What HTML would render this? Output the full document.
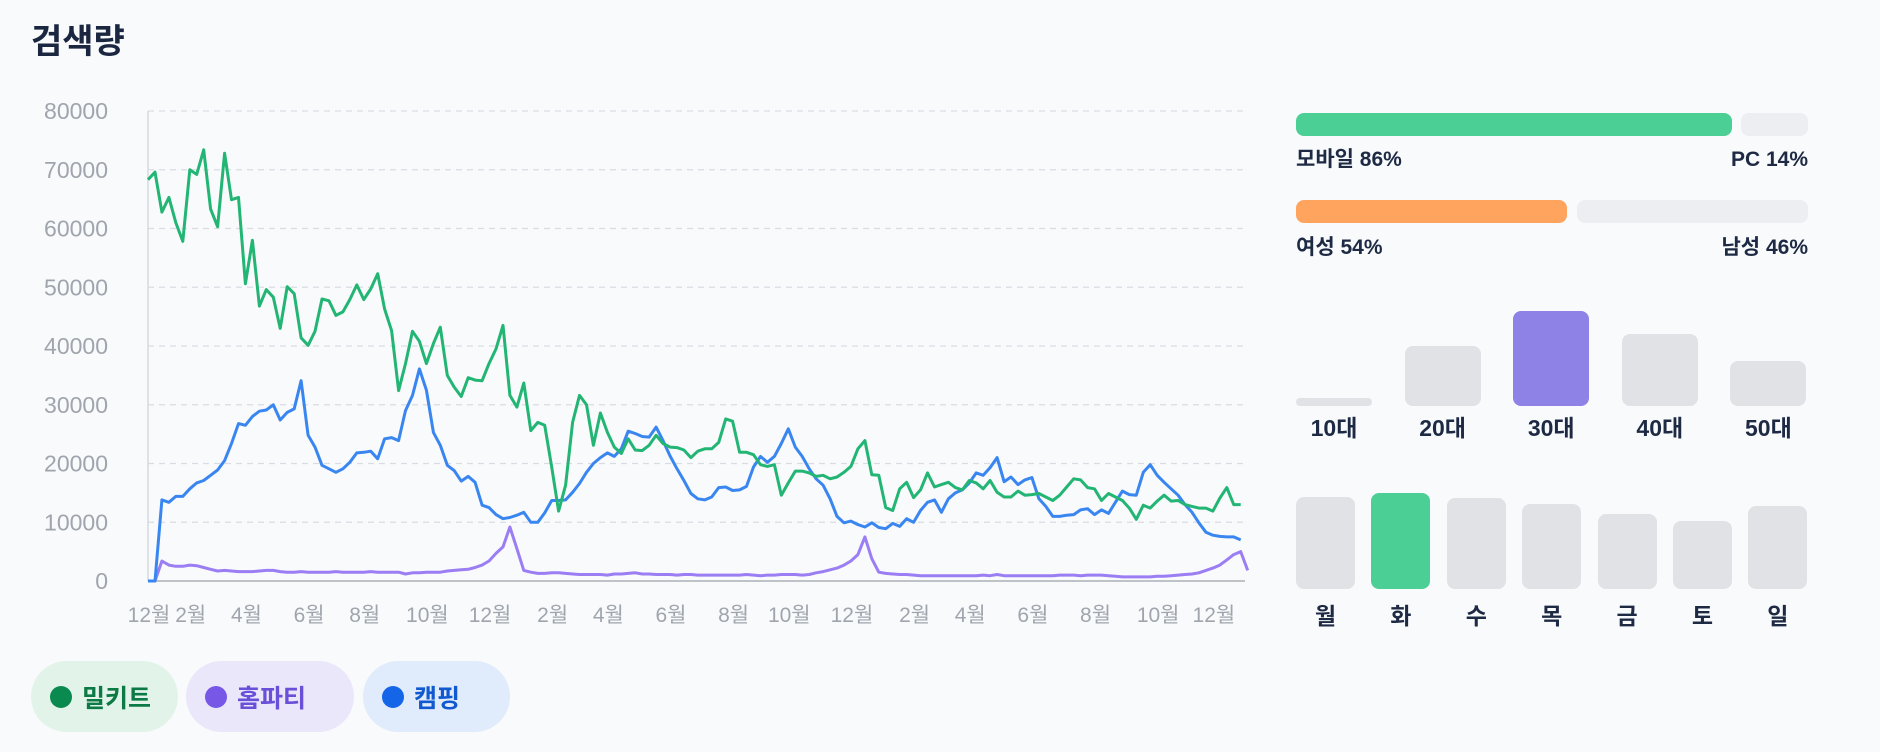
<!DOCTYPE html>
<html><head><meta charset="utf-8">
<style>
body{margin:0;width:1880px;height:752px;background:#f8fafc;font-family:"Liberation Sans","Noto Sans CJK KR",sans-serif;position:relative;overflow:hidden}
.abs{position:absolute}
.title{left:31px;top:14px;font-size:34px;font-weight:700;color:#1b2640}
.pill{position:absolute;top:661px;height:71px;border-radius:36px;display:flex;align-items:center;font-size:25px;font-weight:600}
.pill .dot{width:22px;height:22px;border-radius:50%;margin-left:19px;margin-right:10px}
.lbl{position:absolute;font-size:21px;line-height:26px;font-weight:700;color:#1e2a44}
.bar{position:absolute;border-radius:8px}
.cl{position:absolute;font-size:23px;line-height:28px;font-weight:700;color:#1e2a44;text-align:center}
</style></head><body>
<div class="abs title">검색량</div>
<svg id="chart" class="abs" style="left:0;top:0" width="1260" height="650"></svg>

<div class="pill" style="left:31px;width:147px;background:#e2f3e9;color:#0b7a45"><span class="dot" style="background:#0a8a4e"></span>밀키트</div>
<div class="pill" style="left:186px;width:168px;background:#ebe7fb;color:#6a4fd8"><span class="dot" style="background:#7657e6"></span>홈파티</div>
<div class="pill" style="left:363px;width:147px;background:#e0ebfb;color:#1059d0"><span class="dot" style="background:#1565e8"></span>캠핑</div>

<div class="bar" style="left:1296px;top:113px;width:436px;height:23px;background:#4ccf95"></div>
<div class="bar" style="left:1741px;top:113px;width:67px;height:23px;background:#eceef1"></div>
<div class="lbl" style="left:1296px;top:147px">모바일 86%</div>
<div class="lbl" style="left:1600px;width:208px;text-align:right;top:147px">PC 14%</div>
<div class="bar" style="left:1296px;top:200px;width:271px;height:23px;background:#ffa45f"></div>
<div class="bar" style="left:1577px;top:200px;width:231px;height:23px;background:#eceef1"></div>
<div class="lbl" style="left:1296px;top:235px">여성 54%</div>
<div class="lbl" style="left:1600px;width:208px;text-align:right;top:235px">남성 46%</div>
<div id="ages"></div>
<div id="days"></div>

<script>
const N=158;
const mealkit=[68300,69600,62800,65300,61000,57800,70000,69200,73400,63300,60300,72800,64900,65300,50600,58000,46800,49600,48300,43000,50100,48900,41400,40100,42500,48000,47700,45200,45800,47900,50400,47900,49700,52300,46300,42600,32400,37000,42500,40800,37000,40400,43200,35000,33000,31400,34600,34200,34100,37000,39500,43500,31600,29600,33700,25600,27000,26500,19400,11900,16300,27000,31600,30000,23100,28600,25300,22800,21700,24200,22300,22200,23100,24800,23400,22800,22700,22300,21000,22100,22500,22500,23600,27600,27200,21900,21900,21500,19800,19500,19800,14600,16700,18700,18700,18400,17800,18000,17400,17700,18500,19500,22500,23900,18100,18000,12500,12000,15700,16800,14200,15500,18400,16000,16400,16800,15900,15500,17100,16700,15700,17100,15100,14300,14300,15300,14600,14700,14900,14300,13700,14600,16000,17400,17200,15900,15700,13700,14900,14300,13700,12400,10500,12900,12400,13600,14600,13600,13700,13000,12700,12400,12400,11900,14100,15900,13000,13000];
const camping=[0,0,13800,13400,14400,14400,15700,16700,17100,18000,18900,20500,23400,26800,26500,28000,28900,29100,30000,27400,28700,29300,34100,24800,22800,19700,19100,18500,19100,20200,21800,21900,22100,20800,24200,24400,23900,29000,31600,36100,32500,25300,23100,19700,18800,17000,17800,16800,12900,12500,11300,10600,10800,11200,11700,10000,10000,11600,13700,13700,13800,15100,16600,18500,20000,21000,21800,21200,22500,25500,25100,24600,24500,26200,23900,21300,19100,17100,14900,14000,13800,14300,15900,16000,15400,15500,16100,19400,21200,20200,21200,23400,25900,22800,21200,19100,17400,16300,14000,11000,9900,10200,9600,9200,9900,9100,8900,9800,9300,10600,10000,12000,13400,13800,11700,14000,15000,15500,16700,18400,18000,19300,21000,16900,17700,16400,17200,17600,14000,12700,11000,11000,11200,11300,12100,12300,11300,12100,11500,13400,15300,14700,14600,18500,19800,18000,16800,15700,14600,13000,11700,9900,8300,7800,7600,7500,7500,7000];
const homeparty=[0,0,3400,2700,2500,2500,2700,2600,2300,2000,1700,1800,1700,1600,1600,1600,1700,1800,1800,1600,1500,1500,1600,1500,1500,1500,1500,1600,1500,1500,1500,1500,1600,1500,1500,1500,1500,1200,1400,1400,1500,1500,1500,1700,1800,1900,2000,2300,2700,3400,4700,5800,9200,5500,1800,1500,1300,1300,1400,1400,1300,1200,1100,1100,1100,1100,1000,1200,1200,1300,1400,1200,1200,1100,1100,1100,1000,1100,1100,1000,1000,1000,1000,1000,1000,1000,1100,1000,900,1000,1000,1100,1100,1100,1000,1100,1400,1600,1900,2200,2700,3400,4500,7500,3800,1500,1300,1200,1100,1100,1000,900,900,900,900,900,900,900,900,900,1000,900,1100,900,900,900,900,900,900,900,900,1000,1000,1000,900,1000,1000,1000,900,800,700,700,700,700,700,800,800,900,1000,1100,1200,1400,1800,2200,2700,3600,4500,5000,1800];
const yTicks=[0,10000,20000,30000,40000,50000,60000,70000,80000];
const xTickIdx=[0,6,14,23,31,40,49,58,66,75,84,92,101,110,118,127,136,145,153];
const xTickLbl=["12월","2월","4월","6월","8월","10월","12월","2월","4월","6월","8월","10월","12월","2월","4월","6월","8월","10월","12월"];
const ages=["10대","20대","30대","40대","50대"];
const ageVals=[8,60,95,72,45];
const days=["월","화","수","목","금","토","일"];
const dayVals=[92,96,91,85,75,68,83];

const X0=148,X1=1240.7,Y0=581,Y1=111,YMAX=80000;
const xs=i=>X0+(X1-X0)*i/(N-1);
const ys=v=>Y0-(Y0-Y1)*v/YMAX;
const NS="http://www.w3.org/2000/svg";
const svg=document.getElementById('chart');
function mk(t,a){const e=document.createElementNS(NS,t);for(const k in a)e.setAttribute(k,a[k]);svg.appendChild(e);return e;}
yTicks.forEach(v=>{
  if(v>0){const g=mk('line',{x1:X0,x2:1245,y1:ys(v),y2:ys(v),stroke:'#d9dde2','stroke-width':1.3,'stroke-dasharray':'6 5'});
  
  }
  const t=mk('text',{x:108,y:ys(v)+8,'text-anchor':'end','font-size':23,fill:'#a0a5ad','font-family':'Liberation Sans, sans-serif'});
  t.textContent=v;
  
  
});
const ya=mk('line',{x1:X0,x2:X0,y1:Y1,y2:Y0,stroke:'#d5d9de','stroke-width':1.5});


const xa=mk('line',{x1:X0,x2:1245,y1:Y0,y2:Y0,stroke:'#bfc3c8','stroke-width':2});


xTickIdx.forEach((idx,k)=>{
  const t=mk('text',{x:xs(idx)+1,y:622,'text-anchor':'middle','font-size':21,fill:'#a0a5ad','font-family':'Liberation Sans, Noto Sans CJK KR, sans-serif'});
  t.textContent=xTickLbl[k];
  
  
});
function line(arr,col,name){
  const d=arr.map((v,i)=>(i?'L':'M')+xs(i).toFixed(1)+' '+ys(v).toFixed(1)).join(' ');
  const p=mk('path',{d:d,fill:'none',stroke:col,'stroke-width':3,'stroke-linejoin':'round'});
  
  
}
line(homeparty,'#9b7ef3','homeparty-line');
line(camping,'#3a86f0','camping-line');
line(mealkit,'#23b574','mealkit-line');

const ag=document.getElementById('ages');
ages.forEach((a,i)=>{
  const x=1296+i*108.6;
  const b=document.createElement('div');
  b.className='bar';
  b.style.cssText=`left:${x}px;top:${406-ageVals[i]}px;width:76px;height:${ageVals[i]}px;background:${i==2?'#8e82e6':'#e0e2e6'}`;
  
  
  ag.appendChild(b);
  const l=document.createElement('div');
  l.className='cl';
  l.style.cssText=`left:${x-12}px;width:100px;top:414px`;
  l.textContent=a;
  
  
  ag.appendChild(l);
});
const dg=document.getElementById('days');
days.forEach((a,i)=>{
  const x=1296+i*75.4;
  const b=document.createElement('div');
  b.className='bar';
  b.style.cssText=`left:${x}px;top:${589-dayVals[i]}px;width:59px;height:${dayVals[i]}px;background:${i==1?'#4ccf95':'#e0e2e6'}`;
  
  
  dg.appendChild(b);
  const l=document.createElement('div');
  l.className='cl';
  l.style.cssText=`left:${x-10}px;width:79px;top:602px`;
  l.textContent=a;
  
  
  dg.appendChild(l);
});
</script>
</body></html>
